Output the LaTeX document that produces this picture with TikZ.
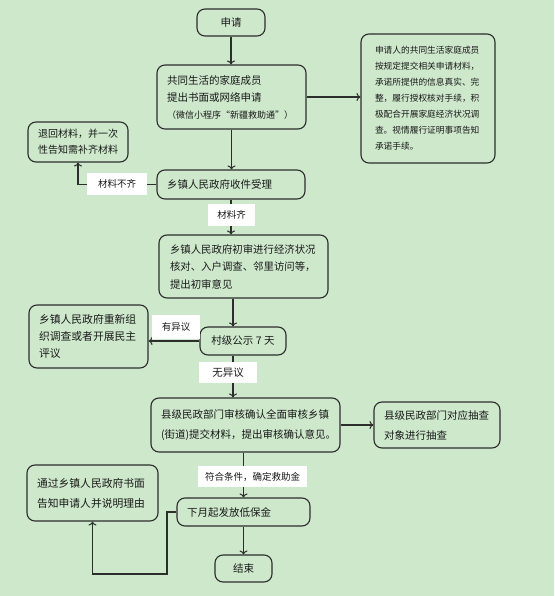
\documentclass[tikz,border=0pt]{standalone}
\usepackage{fontspec}
\newfontfamily\cjk{Noto Sans CJK SC}
\usetikzlibrary{arrows.meta,calc}
\definecolor{bg}{RGB}{206,232,204}
\definecolor{lnc}{RGB}{45,45,45}
\definecolor{txt}{RGB}{25,25,25}
\begin{document}
\begin{tikzpicture}[x=1pt,y=-1pt,
  box/.style={draw=lnc,line width=1.1pt,rounded corners=8pt,inner ysep=0pt,align=left,text=txt,
    font=\cjk\fontsize{10.5}{17}\selectfont},
  cbox/.style={box,align=center,inner xsep=0pt},
  lab/.style={fill=white,inner sep=0pt,text=txt,font=\cjk\fontsize{9.5}{12}\selectfont},
  arr/.style={draw=lnc,line width=1.1pt,-{To[length=4pt,width=8pt]}},
  plain/.style={draw=lnc,line width=1.1pt}]
\useasboundingbox (0,0) rectangle (554,596);
\fill[bg] (0,0) rectangle (554,596);

% boxes
\node[cbox,minimum width=68pt,minimum height=27pt] (n1) at (231,22.5) {申请};
\node[box,minimum width=149pt,minimum height=64pt,inner xsep=10pt,text width=129pt] (n2) at (231.5,97)
  {共同生活的家庭成员\\提出书面或网络申请\\{\fontsize{9}{12}\selectfont（微信小程序“新疆救助通”）}};
\node[box,minimum width=134pt,minimum height=129pt,inner xsep=14pt,text width=106pt,
  font=\cjk\fontsize{8.7}{16}\selectfont] (n3) at (428,98.5)
  {申请人的共同生活家庭成员\\按规定提交相关申请材料，\\承诺所提供的信息真实、完\\整，履行授权核对手续，积\\极配合开展家庭经济状况调\\查。视情履行证明事项告知\\承诺手续。};
\node[box,minimum width=100pt,minimum height=40pt,inner xsep=10pt,text width=80pt,
  font=\cjk\fontsize{10}{16}\selectfont] (n4) at (78,142)
  {退回材料，并一次\\性告知需补齐材料};
\node[box,minimum width=148pt,minimum height=29pt,inner xsep=10pt,text width=128pt] (n5) at (231,184.5)
  {乡镇人民政府收件受理};
\node[box,minimum width=169pt,minimum height=63pt,inner xsep=11pt,text width=147pt,
  font=\cjk\fontsize{10.4}{17.5}\selectfont] (n8) at (243.5,266.5)
  {乡镇人民政府初审进行经济状况\\核对、入户调查、邻里访问等，\\提出初审意见};
\node[cbox,minimum width=86pt,minimum height=28pt] (n9) at (243,341) {村级公示 7 天};
\node[box,minimum width=119pt,minimum height=63pt,inner xsep=10pt,text width=99pt,
  font=\cjk\fontsize{10.8}{17}\selectfont] (n10) at (88.5,336.5)
  {乡镇人民政府重新组\\织调查或者开展民主\\评议};
\node[box,minimum width=189pt,minimum height=54pt,inner xsep=10pt,text width=169pt,
  font=\cjk\fontsize{10.5}{20}\selectfont] (n12) at (245.5,425)
  {县级民政部门审核确认全面审核乡镇\\(街道)提交材料，提出审核确认意见。};
\node[box,minimum width=126pt,minimum height=46pt,inner xsep=10pt,text width=106pt,
  font=\cjk\fontsize{10.5}{20}\selectfont] (n13) at (437,425)
  {县级民政部门对应抽查\\对象进行抽查};
\node[box,minimum width=133pt,minimum height=28pt,inner xsep=10pt,text width=113pt] (n15) at (243.5,512)
  {下月起发放低保金};
\node[box,minimum width=131pt,minimum height=56pt,inner xsep=10pt,text width=111pt,
  font=\cjk\fontsize{10.8}{20}\selectfont] (n16) at (92.5,493)
  {通过乡镇人民政府书面\\告知申请人并说明理由};
\node[cbox,minimum width=57pt,minimum height=27pt] (n17) at (243.5,568.5) {结束};

% helper coordinates
\coordinate (c89) at (233,0);
\coordinate (c16) at (167,574);

% connectors
\draw[arr] (n1.south) -- (n1.south |- n2.north);
\draw[arr] (n2.east) -- (n2.east -| n3.west);
\draw[arr] (n2.south) -- (n2.south |- n5.north);
\draw[arr] (n5.west) -| (n4.south);
\draw[arr] (n5.south) -- (n5.south |- n8.north);
\draw[arr] (c89 |- n8.south) -- (c89 |- n9.north);
\draw[arr] (n9.west) -- (n9.west -| n10.east);
\draw[arr] (c89 |- n9.south) -- (c89 |- n12.north);
\draw[arr] (n12.east) -- (n12.east -| n13.west);
\draw[arr] (n15.north |- n12.south) -- (n15.north);
\draw[arr] (n15.south) -- (n17.north);
\draw[arr] (n15.west) -| (c16) -| (n16.south);

% labels
\node[lab,minimum width=60pt,minimum height=22pt] (l1) at (117,184) {材料不齐};
\node[lab,minimum width=47pt,minimum height=22pt] (l2) at (231.5,215) {材料齐};
\node[lab,minimum width=48pt,minimum height=24pt] (l3) at (176,327) {有异议};
\node[lab,minimum width=58pt,minimum height=21pt,font=\cjk\fontsize{10.5}{12}\selectfont] (l4) at (228,372.5) {无异议};
\node[lab,minimum width=109pt,minimum height=21pt] (l5) at (252.5,476.5) {符合条件，确定救助金};
\end{tikzpicture}
\end{document}
